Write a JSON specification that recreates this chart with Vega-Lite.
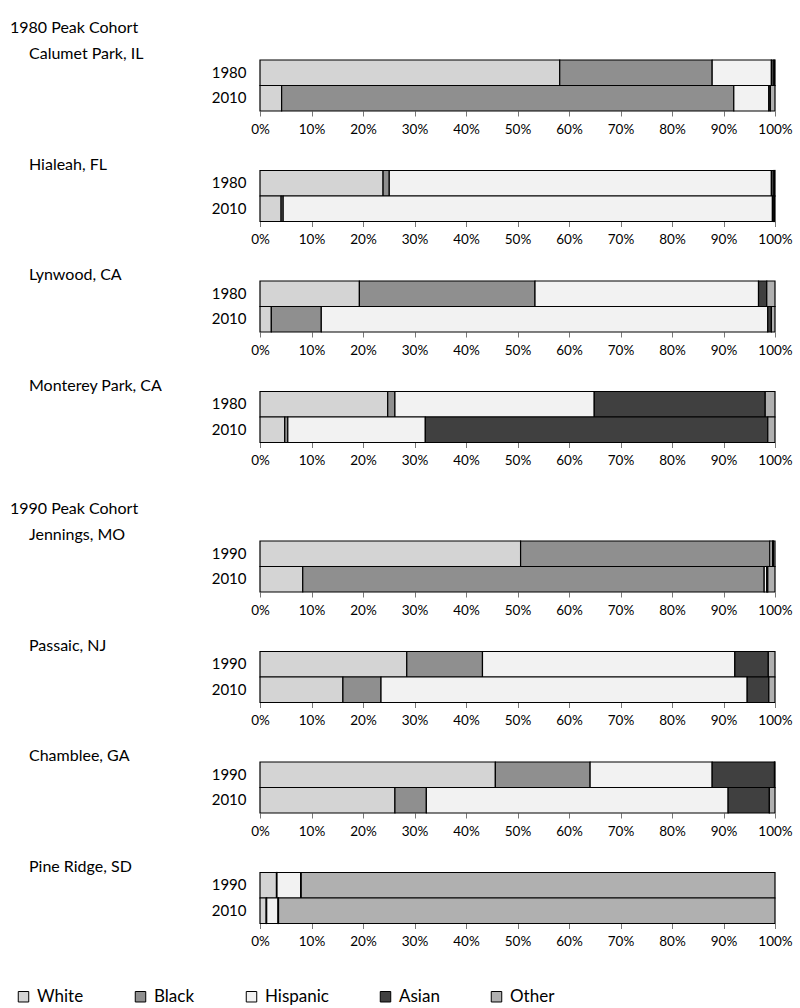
{
  "$schema": "https://vega.github.io/schema/vega-lite/v6.json",
  "padding": {"left": 10, "top": 20, "right": 5, "bottom": 0},
  "background": "white",
  "config": {
    "font": "Lato",
    "view": {"stroke": null},
    "title": {"anchor": "start", "frame": "group", "fontSize": 16, "fontWeight": "normal", "color": "black", "font": "Lato"},
    "axisY": {"domain": false, "ticks": false, "labelPadding": 14, "labelFontSize": 15, "labelColor": "black"},
    "axisX": {"grid": false, "domain": false, "tickColor": "#777", "tickSize": 5, "labelFontSize": 13.5, "labelPadding": 6, "labelColor": "black", "labelFlush": false, "labelOverlap": false},
    "legend": {"direction": "horizontal", "symbolType": "square", "symbolSize": 110, "symbolStrokeColor": "black", "symbolStrokeWidth": 1, "labelFontSize": 17, "labelColor": "black", "columnPadding": 48, "labelOffset": 5, "padding": 0}
  },
  "data": {"values": [
    {"c": "Calumet Park, IL", "y": "1980", "r": "White", "p": 58.2},
    {"c": "Calumet Park, IL", "y": "1980", "r": "Black", "p": 29.6},
    {"c": "Calumet Park, IL", "y": "1980", "r": "Hispanic", "p": 11.5},
    {"c": "Calumet Park, IL", "y": "1980", "r": "Asian", "p": 0.5},
    {"c": "Calumet Park, IL", "y": "1980", "r": "Other", "p": 0.2},
    {"c": "Calumet Park, IL", "y": "2010", "r": "White", "p": 4.2},
    {"c": "Calumet Park, IL", "y": "2010", "r": "Black", "p": 87.8},
    {"c": "Calumet Park, IL", "y": "2010", "r": "Hispanic", "p": 6.8},
    {"c": "Calumet Park, IL", "y": "2010", "r": "Asian", "p": 0.3},
    {"c": "Calumet Park, IL", "y": "2010", "r": "Other", "p": 0.9},
    {"c": "Hialeah, FL", "y": "1980", "r": "White", "p": 23.9},
    {"c": "Hialeah, FL", "y": "1980", "r": "Black", "p": 1.2},
    {"c": "Hialeah, FL", "y": "1980", "r": "Hispanic", "p": 74.2},
    {"c": "Hialeah, FL", "y": "1980", "r": "Asian", "p": 0.5},
    {"c": "Hialeah, FL", "y": "1980", "r": "Other", "p": 0.2},
    {"c": "Hialeah, FL", "y": "2010", "r": "White", "p": 4.1},
    {"c": "Hialeah, FL", "y": "2010", "r": "Black", "p": 0.4},
    {"c": "Hialeah, FL", "y": "2010", "r": "Hispanic", "p": 95.0},
    {"c": "Hialeah, FL", "y": "2010", "r": "Asian", "p": 0.3},
    {"c": "Hialeah, FL", "y": "2010", "r": "Other", "p": 0.2},
    {"c": "Lynwood, CA", "y": "1980", "r": "White", "p": 19.3},
    {"c": "Lynwood, CA", "y": "1980", "r": "Black", "p": 34.1},
    {"c": "Lynwood, CA", "y": "1980", "r": "Hispanic", "p": 43.4},
    {"c": "Lynwood, CA", "y": "1980", "r": "Asian", "p": 1.6},
    {"c": "Lynwood, CA", "y": "1980", "r": "Other", "p": 1.6},
    {"c": "Lynwood, CA", "y": "2010", "r": "White", "p": 2.2},
    {"c": "Lynwood, CA", "y": "2010", "r": "Black", "p": 9.7},
    {"c": "Lynwood, CA", "y": "2010", "r": "Hispanic", "p": 86.7},
    {"c": "Lynwood, CA", "y": "2010", "r": "Asian", "p": 0.7},
    {"c": "Lynwood, CA", "y": "2010", "r": "Other", "p": 0.7},
    {"c": "Monterey Park, CA", "y": "1980", "r": "White", "p": 24.8},
    {"c": "Monterey Park, CA", "y": "1980", "r": "Black", "p": 1.4},
    {"c": "Monterey Park, CA", "y": "1980", "r": "Hispanic", "p": 38.7},
    {"c": "Monterey Park, CA", "y": "1980", "r": "Asian", "p": 33.2},
    {"c": "Monterey Park, CA", "y": "1980", "r": "Other", "p": 1.9},
    {"c": "Monterey Park, CA", "y": "2010", "r": "White", "p": 4.8},
    {"c": "Monterey Park, CA", "y": "2010", "r": "Black", "p": 0.6},
    {"c": "Monterey Park, CA", "y": "2010", "r": "Hispanic", "p": 26.7},
    {"c": "Monterey Park, CA", "y": "2010", "r": "Asian", "p": 66.5},
    {"c": "Monterey Park, CA", "y": "2010", "r": "Other", "p": 1.4},
    {"c": "Jennings, MO", "y": "1990", "r": "White", "p": 50.6},
    {"c": "Jennings, MO", "y": "1990", "r": "Black", "p": 48.4},
    {"c": "Jennings, MO", "y": "1990", "r": "Hispanic", "p": 0.5},
    {"c": "Jennings, MO", "y": "1990", "r": "Asian", "p": 0.2},
    {"c": "Jennings, MO", "y": "1990", "r": "Other", "p": 0.3},
    {"c": "Jennings, MO", "y": "2010", "r": "White", "p": 8.3},
    {"c": "Jennings, MO", "y": "2010", "r": "Black", "p": 89.6},
    {"c": "Jennings, MO", "y": "2010", "r": "Hispanic", "p": 0.5},
    {"c": "Jennings, MO", "y": "2010", "r": "Asian", "p": 0.2},
    {"c": "Jennings, MO", "y": "2010", "r": "Other", "p": 1.4},
    {"c": "Passaic, NJ", "y": "1990", "r": "White", "p": 28.5},
    {"c": "Passaic, NJ", "y": "1990", "r": "Black", "p": 14.7},
    {"c": "Passaic, NJ", "y": "1990", "r": "Hispanic", "p": 49.0},
    {"c": "Passaic, NJ", "y": "1990", "r": "Asian", "p": 6.5},
    {"c": "Passaic, NJ", "y": "1990", "r": "Other", "p": 1.3},
    {"c": "Passaic, NJ", "y": "2010", "r": "White", "p": 16.1},
    {"c": "Passaic, NJ", "y": "2010", "r": "Black", "p": 7.4},
    {"c": "Passaic, NJ", "y": "2010", "r": "Hispanic", "p": 71.1},
    {"c": "Passaic, NJ", "y": "2010", "r": "Asian", "p": 4.2},
    {"c": "Passaic, NJ", "y": "2010", "r": "Other", "p": 1.2},
    {"c": "Chamblee, GA", "y": "1990", "r": "White", "p": 45.7},
    {"c": "Chamblee, GA", "y": "1990", "r": "Black", "p": 18.4},
    {"c": "Chamblee, GA", "y": "1990", "r": "Hispanic", "p": 23.7},
    {"c": "Chamblee, GA", "y": "1990", "r": "Asian", "p": 12.1},
    {"c": "Chamblee, GA", "y": "1990", "r": "Other", "p": 0.1},
    {"c": "Chamblee, GA", "y": "2010", "r": "White", "p": 26.2},
    {"c": "Chamblee, GA", "y": "2010", "r": "Black", "p": 6.1},
    {"c": "Chamblee, GA", "y": "2010", "r": "Hispanic", "p": 58.6},
    {"c": "Chamblee, GA", "y": "2010", "r": "Asian", "p": 8.0},
    {"c": "Chamblee, GA", "y": "2010", "r": "Other", "p": 1.1},
    {"c": "Pine Ridge, SD", "y": "1990", "r": "White", "p": 3.2},
    {"c": "Pine Ridge, SD", "y": "1990", "r": "Black", "p": 0.1},
    {"c": "Pine Ridge, SD", "y": "1990", "r": "Hispanic", "p": 4.6},
    {"c": "Pine Ridge, SD", "y": "1990", "r": "Asian", "p": 0.1},
    {"c": "Pine Ridge, SD", "y": "1990", "r": "Other", "p": 92.0},
    {"c": "Pine Ridge, SD", "y": "2010", "r": "White", "p": 1.2},
    {"c": "Pine Ridge, SD", "y": "2010", "r": "Black", "p": 0.1},
    {"c": "Pine Ridge, SD", "y": "2010", "r": "Hispanic", "p": 2.2},
    {"c": "Pine Ridge, SD", "y": "2010", "r": "Asian", "p": 0.1},
    {"c": "Pine Ridge, SD", "y": "2010", "r": "Other", "p": 96.4}
  ]},
  "spacing": 34,
  "vconcat": [
    {
      "title": {"text": "1980 Peak Cohort", "dx": -250, "offset": 10},
      "spacing": 20.5,
      "vconcat": [
        {"title": {"text": "Calumet Park, IL", "dx": -231, "offset": -3}, "width": 515, "height": 51,
         "transform": [{"filter": "datum.c === 'Calumet Park, IL'"}, {"calculate": "indexof(['White','Black','Hispanic','Asian','Other'], datum.r)", "as": "k"}],
         "mark": {"type": "bar", "stroke": "black", "strokeWidth": 1.2},
         "encoding": {
           "y": {"field": "y", "type": "nominal", "title": null, "scale": {"paddingInner": 0, "paddingOuter": 0}},
           "x": {"field": "p", "type": "quantitative", "stack": "normalize", "title": null, "axis": {"format": ".0%", "values": [0, 0.1, 0.2, 0.3, 0.4, 0.5, 0.6, 0.7, 0.8, 0.9, 1]}},
           "order": {"field": "k", "type": "quantitative"},
           "color": {"field": "r", "type": "nominal", "title": null, "sort": ["White", "Black", "Hispanic", "Asian", "Other"], "scale": {"domain": ["White", "Black", "Hispanic", "Asian", "Other"], "range": ["#d4d4d4", "#8f8f8f", "#f2f2f2", "#404040", "#b0b0b0"]}, "legend": {"orient": "none", "legendX": -245, "legendY": 928, "direction": "horizontal"}}
         }},
        {"title": {"text": "Hialeah, FL", "dx": -231, "offset": -3}, "width": 515, "height": 51,
         "transform": [{"filter": "datum.c === 'Hialeah, FL'"}, {"calculate": "indexof(['White','Black','Hispanic','Asian','Other'], datum.r)", "as": "k"}],
         "mark": {"type": "bar", "stroke": "black", "strokeWidth": 1.2},
         "encoding": {
           "y": {"field": "y", "type": "nominal", "title": null, "scale": {"paddingInner": 0, "paddingOuter": 0}},
           "x": {"field": "p", "type": "quantitative", "stack": "normalize", "title": null, "axis": {"format": ".0%", "values": [0, 0.1, 0.2, 0.3, 0.4, 0.5, 0.6, 0.7, 0.8, 0.9, 1]}},
           "order": {"field": "k", "type": "quantitative"},
           "color": {"field": "r", "type": "nominal", "title": null, "sort": ["White", "Black", "Hispanic", "Asian", "Other"], "scale": {"domain": ["White", "Black", "Hispanic", "Asian", "Other"], "range": ["#d4d4d4", "#8f8f8f", "#f2f2f2", "#404040", "#b0b0b0"]}, "legend": {"orient": "none", "legendX": -245, "legendY": 928, "direction": "horizontal"}}
         }},
        {"title": {"text": "Lynwood, CA", "dx": -231, "offset": -3}, "width": 515, "height": 51,
         "transform": [{"filter": "datum.c === 'Lynwood, CA'"}, {"calculate": "indexof(['White','Black','Hispanic','Asian','Other'], datum.r)", "as": "k"}],
         "mark": {"type": "bar", "stroke": "black", "strokeWidth": 1.2},
         "encoding": {
           "y": {"field": "y", "type": "nominal", "title": null, "scale": {"paddingInner": 0, "paddingOuter": 0}},
           "x": {"field": "p", "type": "quantitative", "stack": "normalize", "title": null, "axis": {"format": ".0%", "values": [0, 0.1, 0.2, 0.3, 0.4, 0.5, 0.6, 0.7, 0.8, 0.9, 1]}},
           "order": {"field": "k", "type": "quantitative"},
           "color": {"field": "r", "type": "nominal", "title": null, "sort": ["White", "Black", "Hispanic", "Asian", "Other"], "scale": {"domain": ["White", "Black", "Hispanic", "Asian", "Other"], "range": ["#d4d4d4", "#8f8f8f", "#f2f2f2", "#404040", "#b0b0b0"]}, "legend": {"orient": "none", "legendX": -245, "legendY": 928, "direction": "horizontal"}}
         }},
        {"title": {"text": "Monterey Park, CA", "dx": -231, "offset": -3}, "width": 515, "height": 51,
         "transform": [{"filter": "datum.c === 'Monterey Park, CA'"}, {"calculate": "indexof(['White','Black','Hispanic','Asian','Other'], datum.r)", "as": "k"}],
         "mark": {"type": "bar", "stroke": "black", "strokeWidth": 1.2},
         "encoding": {
           "y": {"field": "y", "type": "nominal", "title": null, "scale": {"paddingInner": 0, "paddingOuter": 0}},
           "x": {"field": "p", "type": "quantitative", "stack": "normalize", "title": null, "axis": {"format": ".0%", "values": [0, 0.1, 0.2, 0.3, 0.4, 0.5, 0.6, 0.7, 0.8, 0.9, 1]}},
           "order": {"field": "k", "type": "quantitative"},
           "color": {"field": "r", "type": "nominal", "title": null, "sort": ["White", "Black", "Hispanic", "Asian", "Other"], "scale": {"domain": ["White", "Black", "Hispanic", "Asian", "Other"], "range": ["#d4d4d4", "#8f8f8f", "#f2f2f2", "#404040", "#b0b0b0"]}, "legend": {"orient": "none", "legendX": -245, "legendY": 928, "direction": "horizontal"}}
         }}
      ]
    },
    {
      "title": {"text": "1990 Peak Cohort", "dx": -250, "offset": 10},
      "spacing": 20.5,
      "vconcat": [
        {"title": {"text": "Jennings, MO", "dx": -231, "offset": -3}, "width": 515, "height": 51,
         "transform": [{"filter": "datum.c === 'Jennings, MO'"}, {"calculate": "indexof(['White','Black','Hispanic','Asian','Other'], datum.r)", "as": "k"}],
         "mark": {"type": "bar", "stroke": "black", "strokeWidth": 1.2},
         "encoding": {
           "y": {"field": "y", "type": "nominal", "title": null, "scale": {"paddingInner": 0, "paddingOuter": 0}},
           "x": {"field": "p", "type": "quantitative", "stack": "normalize", "title": null, "axis": {"format": ".0%", "values": [0, 0.1, 0.2, 0.3, 0.4, 0.5, 0.6, 0.7, 0.8, 0.9, 1]}},
           "order": {"field": "k", "type": "quantitative"},
           "color": {"field": "r", "type": "nominal", "title": null, "sort": ["White", "Black", "Hispanic", "Asian", "Other"], "scale": {"domain": ["White", "Black", "Hispanic", "Asian", "Other"], "range": ["#d4d4d4", "#8f8f8f", "#f2f2f2", "#404040", "#b0b0b0"]}, "legend": {"orient": "none", "legendX": -245, "legendY": 928, "direction": "horizontal"}}
         }},
        {"title": {"text": "Passaic, NJ", "dx": -231, "offset": -3}, "width": 515, "height": 51,
         "transform": [{"filter": "datum.c === 'Passaic, NJ'"}, {"calculate": "indexof(['White','Black','Hispanic','Asian','Other'], datum.r)", "as": "k"}],
         "mark": {"type": "bar", "stroke": "black", "strokeWidth": 1.2},
         "encoding": {
           "y": {"field": "y", "type": "nominal", "title": null, "scale": {"paddingInner": 0, "paddingOuter": 0}},
           "x": {"field": "p", "type": "quantitative", "stack": "normalize", "title": null, "axis": {"format": ".0%", "values": [0, 0.1, 0.2, 0.3, 0.4, 0.5, 0.6, 0.7, 0.8, 0.9, 1]}},
           "order": {"field": "k", "type": "quantitative"},
           "color": {"field": "r", "type": "nominal", "title": null, "sort": ["White", "Black", "Hispanic", "Asian", "Other"], "scale": {"domain": ["White", "Black", "Hispanic", "Asian", "Other"], "range": ["#d4d4d4", "#8f8f8f", "#f2f2f2", "#404040", "#b0b0b0"]}, "legend": {"orient": "none", "legendX": -245, "legendY": 928, "direction": "horizontal"}}
         }},
        {"title": {"text": "Chamblee, GA", "dx": -231, "offset": -3}, "width": 515, "height": 51,
         "transform": [{"filter": "datum.c === 'Chamblee, GA'"}, {"calculate": "indexof(['White','Black','Hispanic','Asian','Other'], datum.r)", "as": "k"}],
         "mark": {"type": "bar", "stroke": "black", "strokeWidth": 1.2},
         "encoding": {
           "y": {"field": "y", "type": "nominal", "title": null, "scale": {"paddingInner": 0, "paddingOuter": 0}},
           "x": {"field": "p", "type": "quantitative", "stack": "normalize", "title": null, "axis": {"format": ".0%", "values": [0, 0.1, 0.2, 0.3, 0.4, 0.5, 0.6, 0.7, 0.8, 0.9, 1]}},
           "order": {"field": "k", "type": "quantitative"},
           "color": {"field": "r", "type": "nominal", "title": null, "sort": ["White", "Black", "Hispanic", "Asian", "Other"], "scale": {"domain": ["White", "Black", "Hispanic", "Asian", "Other"], "range": ["#d4d4d4", "#8f8f8f", "#f2f2f2", "#404040", "#b0b0b0"]}, "legend": {"orient": "none", "legendX": -245, "legendY": 928, "direction": "horizontal"}}
         }},
        {"title": {"text": "Pine Ridge, SD", "dx": -231, "offset": -3}, "width": 515, "height": 51,
         "transform": [{"filter": "datum.c === 'Pine Ridge, SD'"}, {"calculate": "indexof(['White','Black','Hispanic','Asian','Other'], datum.r)", "as": "k"}],
         "mark": {"type": "bar", "stroke": "black", "strokeWidth": 1.2},
         "encoding": {
           "y": {"field": "y", "type": "nominal", "title": null, "scale": {"paddingInner": 0, "paddingOuter": 0}},
           "x": {"field": "p", "type": "quantitative", "stack": "normalize", "title": null, "axis": {"format": ".0%", "values": [0, 0.1, 0.2, 0.3, 0.4, 0.5, 0.6, 0.7, 0.8, 0.9, 1]}},
           "order": {"field": "k", "type": "quantitative"},
           "color": {"field": "r", "type": "nominal", "title": null, "sort": ["White", "Black", "Hispanic", "Asian", "Other"], "scale": {"domain": ["White", "Black", "Hispanic", "Asian", "Other"], "range": ["#d4d4d4", "#8f8f8f", "#f2f2f2", "#404040", "#b0b0b0"]}, "legend": {"orient": "none", "legendX": -245, "legendY": 928, "direction": "horizontal"}}
         }}
      ]
    }
  ]
}
